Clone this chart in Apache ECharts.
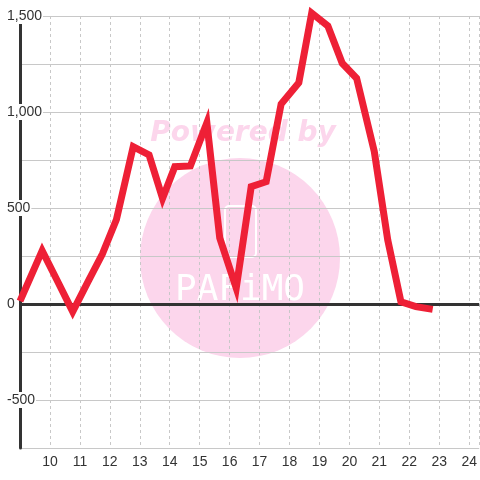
<!DOCTYPE html>
<html>
<head>
<meta charset="utf-8">
<script src="https://cdn.jsdelivr.net/npm/echarts@6/dist/echarts.min.js"></script>
<style>
  html, body { margin: 0; padding: 0; background: #fff; }
  #chart { width: 480px; height: 480px; }
</style>
</head>
<body>
<div id="chart"></div>
<script>
  // x 位置
  const xValues = [9.0, 9.74, 10.25, 10.76, 11.25, 11.75, 12.22, 12.78, 13.31, 13.76, 14.17, 14.69,
    15.24, 15.67, 16.22, 16.72, 17.22, 17.72, 18.31, 18.74, 19.28, 19.76, 20.24, 20.83,
    21.28, 21.72, 22.22, 22.78];
  const yValues = [15, 278, 120, -40, 110, 260, 440, 819, 776, 550, 715, 719,
    944, 344, 83, 611, 637, 1042, 1153, 1515, 1448, 1254, 1176, 795,
    333, 12, -14, -28];
  const yTicksShown = [-500, 0, 500, 1000, 1500];

  const chart = echarts.init(document.getElementById('chart'));
  const lineData = xValues.map((x, i) => [x, yValues[i]]);

  const option = {
    backgroundColor: '#ffffff',
    animation: false,
    grid: { left: 20, top: 16, bottom: 32, right: 0, containLabel: false },
    graphic: {
      elements: [
        {
          type: 'circle',
          shape: { cx: 240, cy: 258, r: 100 },
          style: { fill: '#fcd6ec' },
          silent: true,
          z: -10,
        },
        {
          type: 'text',
          x: 243,
          y: 134,
          style: {
            text: 'Powered by',
            fill: '#fcd6ec',
            font: 'italic 900 28px "DejaVu Sans"',
            align: 'center',
            verticalAlign: 'middle',
          },
          silent: true,
          z: -10,
        },
        {
          type: 'rect',
          shape: { x: 225, y: 206, width: 31, height: 51, r: 4 },
          style: { fill: 'none', stroke: '#ffffff', lineWidth: 2 },
          silent: true,
          z: -9,
        },
        {
          type: 'text',
          x: 240,
          y: 291,
          style: {
            text: 'PAFiMO',
            fill: '#ffffff',
            font: '36px "DejaVu Sans Mono"',
            align: 'center',
            verticalAlign: 'middle',
          },
          silent: true,
          z: -9,
        },
      ],
    },
    xAxis: {
      type: 'value',
      min: 9,
      max: 24.3333,
      interval: 1,
      axisLine: { show: false },
      axisTick: { show: false },
      axisLabel: {
        showMinLabel: false,
        showMaxLabel: false,
        margin: 7,
        color: '#333',
        fontSize: 14,
        fontFamily: 'Liberation Sans',
      },
      splitLine: {
        show: true,
        lineStyle: { color: '#c8c8c8', width: 1, type: [3, 3] },
      },
    },
    yAxis: {
      type: 'value',
      min: -750,
      max: 1500,
      interval: 250,
      axisLine: { show: true, lineStyle: { color: '#333', width: 3 } },
      axisTick: { show: false },
      axisLabel: {
        margin: 13,
        align: 'left',
        color: '#333',
        fontSize: 14,
        fontFamily: 'Liberation Sans',
        backgroundColor: '#ffffff',
        padding: [1, 1, 1, 0],
        formatter: (v) => (yTicksShown.includes(v) ? v.toLocaleString('en-US') : ''),
      },
      splitLine: { show: true, lineStyle: { color: '#c8c8c8', width: 1 } },
    },
    series: [
      {
        type: 'line',
        data: lineData,
        symbol: 'none',
        clip: false,
        z: 3,
        lineStyle: { color: '#ee2036', width: 7, join: 'miter' },
        markLine: {
          silent: true,
          symbol: 'none',
          z: 1,
          label: { show: false },
          lineStyle: { color: '#333', width: 3, type: 'solid' },
          data: [{ yAxis: 0 }],
        },
      },
    ],
  };

  chart.setOption(option);
</script>
</body>
</html>
